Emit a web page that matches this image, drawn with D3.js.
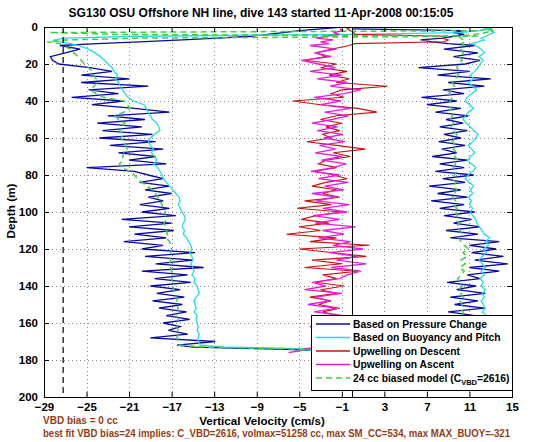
<!DOCTYPE html>
<html><head><meta charset="utf-8">
<script src="https://cdn.jsdelivr.net/npm/d3@7"></script>
<style>
body{margin:0;background:#fff;}
svg{display:block;font-family:"Liberation Sans",Arial,Helvetica,sans-serif;}
</style></head><body>
<svg id="chart" width="560" height="442"></svg>
<script>
// ---------------- DATA ----------------
const titleText = "SG130 OSU Offshore NH line, dive 143 started 11-Apr-2008 00:15:05";
const xTicks = [-29,-25,-21,-17,-13,-9,-5,-1,3,7,11,15];
const yTicks = [0,20,40,60,80,100,120,140,160,180,200];
const biasLineV = -27.2;   // black dashed reference line
const zeroLineV = 0;

const legendLabels = ["Based on Pressure Change","Based on Buoyancy and Pitch","Upwelling on Descent","Upwelling on Ascent"];

// descent depths (m)
const depthDown = [0,1,2,3,4,5,6,7,8,9,10,
 12,14,16,18,20,22,24,26,28,30,
 32,34,36,38,40,42,44,46,48,50,
 52,54,56,58,60,62,64,66,68,70,
 72,74,76,78,80,82,84,86,88,90,
 92,94,96,98,100,102,104,106,108,110,
 112,114,116,118,120,122,124,126,128,130,
 132,134,136,138,140,142,144,146,148,150,
 152,154,156,158,160,162,164,166,168,170,
 172,173,174];
// ascent depths (m)
const depthUp = [176,175,174,172,
 170,168,166,164,162,160,158,156,154,152,
 150,148,146,144,142,140,138,136,134,132,
 130,128,126,124,122,120,118,116,114,112,
 110,108,106,104,102,100,98,96,94,92,
 90,88,86,84,82,80,78,76,74,72,
 70,68,66,64,62,60,58,56,54,52,
 50,48,46,44,42,40,38,36,34,32,
 30,28,26,24,22,20,18,16,14,12,
 10,
 9,8,7,6,5,4,3,2,1];

// Based on Pressure Change (cm/s)
const blueDown = [-1,-3,-5,-6.5,-8,-9.5,-12.7,-16,-20,-24,-27.5,
 -25.6,-27,-28.4,-28.2,-27.6,-24.7,-22.6,-25.5,-21,-25.5,
 -19.2,-24.8,-22,-26.4,-21.5,-24.5,-20.5,-17.2,-23,-19.5,
 -24,-19.8,-23.5,-18.8,-23.8,-18.5,-22.8,-17.8,-22,-18.5,
 -21,-17.5,-25,-20.5,-19.2,-17.8,-20,-17.2,-19.5,-17,
 -19.2,-17.8,-20,-17.2,-19.8,-16.6,-21.7,-17,-21,-16.8,
 -20.5,-17.5,-21.5,-17.8,-19.8,-14.8,-19.5,-15,-18.5,-14,
 -19.8,-15.5,-18.6,-15.2,-19,-16.2,-18.4,-15.8,-18.8,-16,
 -18.2,-15.6,-17.5,-15.3,-17.8,-16.2,-17.3,-15.5,-19,-12.9,
 -16.5,-15,-8];
const blueUp = [4,9,11,9.2,
 10.5,12,9.5,11.8,9.8,12.2,9.5,11.5,9,12.4,
 9.6,11.8,9.2,12.5,9.8,11.6,8.9,12,10.8,13.8,
 11,14.6,11.5,14.2,11.2,13.5,11,13.8,9.2,11.8,
 8.8,12,9.5,11.2,8.6,11.5,8.2,10.5,7.4,10.8,
 8,10.2,7.2,10.6,8.5,11.4,7.8,10.5,8.2,10.8,
 7.5,9.8,8.4,10.6,8.1,10.2,8.6,10.8,8.2,10.4,
 8.8,10.9,7.8,10.2,7,9.8,6.5,10.5,8.5,12.4,
 9,13,8,11,6.2,10.6,12,9.5,11.8,8.6,
 11.5,
 9,7.5,6.4,8.5,9.5,10.5,9.5,10.5,0];

// Based on Buoyancy and Pitch (cm/s)
const cyanDown = [13,12.5,12,10,0,-20,-27,-28,-27.5,-26.5,-25.8,
 -24.8,-24.2,-23.7,-23.3,-23,-22.6,-22.4,-22.1,-22.3,-22,
 -21.8,-21.6,-21.4,-21.1,-20.6,-19.6,-19.4,-19.2,-19,-18.8,
 -18.4,-18.2,-18.1,-18.6,-19,-19.2,-19,-18.7,-18.9,-18.6,
 -18.4,-18.7,-18.3,-18.1,-17.9,-17.8,-17.5,-17.2,-16.9,-16.6,
 -16.3,-16.2,-16.4,-16.2,-16,-15.8,-15.7,-15.9,-16,-15.8,
 -15.9,-15.6,-15.4,-15.2,-15.1,-15.3,-15.1,-15,-15.2,-15,
 -14.9,-15.1,-14.8,-14.9,-14.6,-14.5,-14.4,-14.7,-14.9,-14.8,
 -14.7,-14.9,-14.6,-14.7,-14.6,-14.5,-14.6,-14.4,-14.5,-14.5,
 -14.3,-12,-4];
const cyanUp = [2,9,12,12.4,
 12.6,12.3,12.5,12.2,12.6,12.4,12.3,12.6,12.2,12.5,
 12.3,12.1,12.4,12.2,12.5,12.1,12.3,12,12.4,12.1,
 12.5,12.2,11.9,12.2,12.6,12.3,12.8,12.5,12.9,12.4,
 12.2,11.9,11.7,11.6,11.3,11.1,11.3,11,11.2,10.9,
 11.3,11.1,11.4,11,10.6,10.9,11.3,11.6,11.2,10.8,
 11.1,11.5,11.2,10.9,11.3,11.6,11.8,11.4,11.1,10.7,
 10.4,10.6,10.9,11.4,11,10.6,10.8,11.2,11.7,11.3,
 10.9,11.4,11.1,11.5,11.8,12,12.3,11.9,12.4,12.1,
 11.6,
 11.2,11.8,12.4,12.1,12.6,12.9,13.3,13,12.5];

// 24 cc biased model (cm/s)
const greenDown = [12.5,13,12,-28.5,-22,12,-20,-27,-28.7,-27.5,-27.2,
 -26.5,-26.2,-25.8,-25.5,-25.2,-24.8,-24.5,-24.3,-24.1,-24,
 -24.3,-24.6,-24.1,-23.4,-21.5,-21.2,-20.9,-21.5,-22.3,-22,
 -21.4,-21.6,-21.9,-21.5,-21.8,-21.5,-21.3,-21.2,-21.5,-21.6,
 -21.6,-21.9,-21.7,-20.9,-20.5,-20.2,-19.8,-19.3,-18.8,-18.5,
 -18.3,-18.1,-17.9,-17.8,-17.6,-17.6,-17.5,-17.7,-17.6,-17.5,
 -17.4,-17.5,-17.2,-17.1,-17,-17.1,-17.2,-17.1,-17.2,-17.1,
 -17,-16.9,-17,-16.9,-16.9,-16.8,-16.7,-16.6,-16.5,-16.5,
 -16.4,-16.4,-16.5,-16.4,-16.4,-16.5,-16.4,-16.4,-16.5,-16.4,
 -16.3,-14,-6];
const greenUp = [1,7,9.5,10.4,
 10.3,10.5,10.2,10.4,10.3,10.5,10.2,10.3,10.4,10.2,
 10.3,10.1,10.4,10.2,10,10.3,10.1,9.9,10.2,10.5,
 10.1,10.6,10.2,10.8,10.4,10.9,10.5,10.2,10,10.3,
 10.1,9.8,10,9.7,9.9,9.6,9.8,9.5,9.7,9.4,
 9.6,9.8,9.5,9.7,9.4,9.6,9.8,9.5,9.7,9.9,
 9.6,9.8,9.5,9.7,9.4,9.6,9.8,9.5,9.3,9.5,
 9.2,9.4,9.1,9.3,9,9.2,9.4,9.1,9.3,9.6,
 9.4,9.7,9.9,10.1,9.8,10,10.3,10.1,10.4,10.2,
 10.5,
 10.3,10.6,10.4,10.2,10,11.5,12.5,13.2,12.8];

// Upwelling on Descent (cm/s)
const redDown = [0,-0.5,-0.2,0.1,0.3,8.8,8.5,9,8.6,0.2,-0.3,
 -2,-3.5,-2.5,-4.5,-1.5,-3,-0.5,-2.2,-0.3,-1.5,
 3.3,-1,-2,-0.8,-5.6,-3,0.5,2.3,-1.5,-3,
 -1,-2.5,-1.2,-2.8,-2,-4.3,-1.5,1.2,-1.8,-0.2,
 -2.5,-3.2,-1.5,-3.5,-1.8,-0.5,-2.5,-3.8,-1.5,-2.8,
 -1.2,-4.5,-2,-5.2,-1,-3.5,-4.8,-2.2,-5,-3,
 -6.2,-1.5,-4,1.6,-5,-1.8,1.3,-3.8,-1,-4.5,
 0.5,-2.8,-1.5,-3.5,-0.8,-3,-1.5,-4,-2,-3.2,
 -1.2,-2.8,-1.5,-2.5,-1,-2.2,-1.5,-2.8,-1.2,-2,
 -1.5,-1.8,-1];

// Upwelling on Ascent (cm/s)
const magentaUp = [-6,-5,-4.5,-2,
 -3.5,-1.2,-3.8,-1.5,-4,-2,-3.2,-0.8,-3.6,-1.5,
 -4.2,-2.2,-3.5,-1,-4.5,-2.5,-3.8,-1.2,-0.5,0.8,
 -2,1.3,-1.5,0.5,-2.2,1,-1.8,-0.2,-3.2,-0.8,
 -2.8,0.3,-3.5,-1.2,-3.7,-0.5,-2.8,-0.3,-3.4,-1.5,
 -3.8,-0.8,-2.6,-0.4,-3.2,-1.2,-3.9,-1.8,-0.6,-2.9,
 -1,-3.5,-1.6,-3.1,-0.7,-2.7,-0.9,-3.3,-1.4,-3.8,
 -1.9,-0.4,-2.6,-0.2,-3,-1.1,-3.6,-0.8,0.8,-2.1,
 -0.5,-3.3,-1,-4,-1.6,-3.2,-4.8,-2,-3.5,-1.5,
 -4,
 -2.2,-3,-1.8,-3.4,-2.5,-1.2,-1.8,-0.9,-1.2];

// ---------------- DRAW ----------------
const svg = d3.select("#chart");
const L = 44, R = 512, T = 27, B = 397;
const x = d3.scaleLinear().domain([-29, 15]).range([L, R]);
const y = d3.scaleLinear().domain([0, 200]).range([T, B]);

svg.append("rect").attr("width", 560).attr("height", 442).attr("fill", "#fff");

const zip = (ds, vs) => ds.map((d, i) => ({d: d, v: vs[i]})).filter(p => p.v !== undefined);
const blueData = zip(depthDown, blueDown).concat(zip(depthUp, blueUp));
const cyanData = zip(depthDown, cyanDown).concat(zip(depthUp, cyanUp));
const greenData = zip(depthDown, greenDown).concat(zip(depthUp, greenUp));
const redData = zip(depthDown, redDown);
const magentaData = zip(depthUp, magentaUp);

// grid
const grid = svg.append("g").attr("stroke", "#8a8a8a").attr("stroke-width", 1).attr("stroke-dasharray", "1,3");
grid.selectAll("line.gx").data(xTicks.slice(1, -1)).join("line")
  .attr("x1", d => Math.round(x(d)) + 0.5).attr("x2", d => Math.round(x(d)) + 0.5)
  .attr("y1", T).attr("y2", B);
grid.selectAll("line.gy").data(yTicks.slice(1, -1)).join("line")
  .attr("y1", d => Math.round(y(d)) + 0.5).attr("y2", d => Math.round(y(d)) + 0.5)
  .attr("x1", L).attr("x2", R);

svg.append("clipPath").attr("id", "pc").append("rect")
  .attr("x", L).attr("y", T).attr("width", R - L).attr("height", B - T);
const plot = svg.append("g").attr("clip-path", "url(#pc)");

const line = d3.line().x(p => x(p.v)).y(p => y(p.d));

plot.append("path").datum(blueData).attr("d", line).attr("fill", "none")
  .attr("stroke", "#0a0aa0").attr("stroke-width", 1.3);
plot.append("path").datum(cyanData).attr("d", line).attr("fill", "none")
  .attr("stroke", "#22dde8").attr("stroke-width", 1.3);
plot.append("path").datum(redData).attr("d", line).attr("fill", "none")
  .attr("stroke", "#cc1111").attr("stroke-width", 1.1);
plot.append("path").datum(magentaData).attr("d", line).attr("fill", "none")
  .attr("stroke", "#e81cd8").attr("stroke-width", 1.3);
plot.append("path").datum(greenData).attr("d", line).attr("fill", "none")
  .attr("stroke", "#3fcf3f").attr("stroke-width", 1.5).attr("stroke-dasharray", "6,4");

// reference lines
plot.append("line").attr("x1", x(biasLineV)).attr("x2", x(biasLineV)).attr("y1", T).attr("y2", B)
  .attr("stroke", "#000").attr("stroke-width", 1.2).attr("stroke-dasharray", "6,4");
plot.append("line").attr("x1", Math.round(x(zeroLineV)) + 0.5).attr("x2", Math.round(x(zeroLineV)) + 0.5)
  .attr("y1", T).attr("y2", B).attr("stroke", "#000").attr("stroke-width", 1);

// axes
const fmt = d3.format("d");
const styleAxis = g => {
  g.select(".domain").remove();
  g.selectAll(".tick line").attr("stroke", "#000");
  g.selectAll(".tick text").attr("fill", "#000").style("font-size", "11.5px").style("font-weight", "bold")
    .style("font-family", "'Liberation Sans', Arial, sans-serif");
};
svg.append("g").attr("transform", `translate(0,${B})`)
  .call(d3.axisBottom(x).tickValues(xTicks).tickFormat(fmt).tickSizeInner(-5).tickSizeOuter(0).tickPadding(6))
  .call(styleAxis);
svg.append("g").attr("transform", `translate(0,${T})`)
  .call(d3.axisTop(x).tickValues(xTicks).tickFormat("").tickSizeInner(-5).tickSizeOuter(0))
  .call(styleAxis);
svg.append("g").attr("transform", `translate(${L},0)`)
  .call(d3.axisLeft(y).tickValues(yTicks).tickFormat(fmt).tickSizeInner(-5).tickSizeOuter(0).tickPadding(6))
  .call(styleAxis);
svg.append("g").attr("transform", `translate(${R},0)`)
  .call(d3.axisRight(y).tickValues(yTicks).tickFormat("").tickSizeInner(-5).tickSizeOuter(0))
  .call(styleAxis);

// frame
svg.append("rect").attr("x", L + 0.5).attr("y", T + 0.5).attr("width", R - L).attr("height", B - T)
  .attr("fill", "none").attr("stroke", "#000").attr("stroke-width", 1);

// title & labels
svg.append("text").attr("x", 261).attr("y", 17).attr("text-anchor", "middle")
  .style("font-size", "12px").style("font-weight", "bold").text(titleText);
svg.append("text").attr("x", 262).attr("y", 425).attr("text-anchor", "middle")
  .style("font-size", "11.6px").style("font-weight", "bold").text("Vertical Velocity (cm/s)");
svg.append("text").attr("transform", "translate(15,211) rotate(-90)").attr("text-anchor", "middle")
  .style("font-size", "11.8px").style("font-weight", "bold").text("Depth (m)");
svg.append("text").attr("x", 43).attr("y", 424).attr("fill", "#983c14")
  .style("font-size", "10px").style("font-weight", "bold").text("VBD bias = 0 cc");
svg.append("text").attr("x", 43).attr("y", 437).attr("fill", "#983c14")
  .attr("textLength", 467).attr("lengthAdjust", "spacingAndGlyphs")
  .style("font-size", "10px").style("font-weight", "bold")
  .text("best fit VBD bias=24 implies: C_VBD=2616, volmax=51258 cc, max SM_CC=534, max MAX_BUOY=-321");

// legend
const lg = svg.append("g");
lg.append("rect").attr("x", 311.5).attr("y", 315.5).attr("width", 201).attr("height", 75)
  .attr("fill", "#fff").attr("stroke", "#000").attr("stroke-width", 1);
const legColors = ["#0a0aa0", "#22dde8", "#cc1111", "#e81cd8"];
const rowY = [324, 337.5, 351, 364.5, 378];
legendLabels.forEach((t, i) => {
  lg.append("line").attr("x1", 316).attr("x2", 350).attr("y1", rowY[i]).attr("y2", rowY[i])
    .attr("stroke", legColors[i]).attr("stroke-width", 1.5);
  lg.append("text").attr("x", 353).attr("y", rowY[i]).attr("dy", "0.36em")
    .style("font-size", "10.3px").style("font-weight", "bold").text(t);
});
lg.append("line").attr("x1", 316).attr("x2", 350).attr("y1", rowY[4]).attr("y2", rowY[4])
  .attr("stroke", "#3fcf3f").attr("stroke-width", 1.5).attr("stroke-dasharray", "6,4");
const lt = lg.append("text").attr("x", 353).attr("y", rowY[4]).attr("dy", "0.36em")
  .style("font-size", "10.3px").style("font-weight", "bold");
lt.append("tspan").text("24 cc biased model (C");
lt.append("tspan").attr("dy", "3").style("font-size", "7.5px").text("VBD");
lt.append("tspan").attr("dy", "-3").text("=2616)");
</script>
</body></html>
